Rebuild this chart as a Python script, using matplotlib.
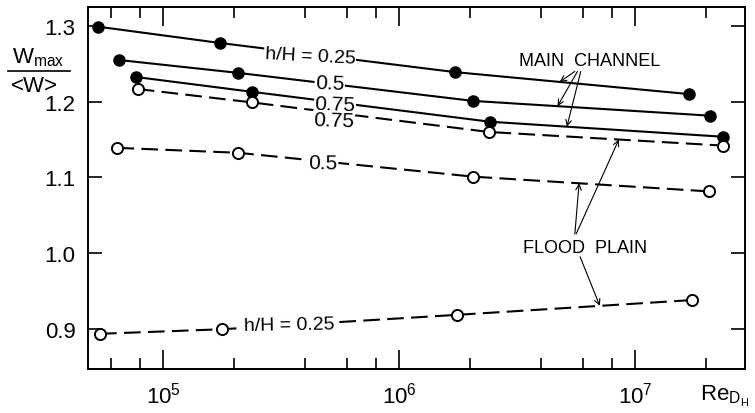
import numpy as np
import matplotlib
matplotlib.use("Agg")
import matplotlib.pyplot as plt
from matplotlib.lines import Line2D
from matplotlib.ticker import LogLocator, NullFormatter, FormatStrFormatter

plt.rcParams['font.family'] = ['Liberation Sans', 'DejaVu Sans']
plt.rcParams['mathtext.fontset'] = 'custom'
plt.rcParams['mathtext.rm'] = 'Liberation Sans'

# Wmax/<W> vs Re_DH, main channel (filled) and flood plain (open)
main_re = {
    '0.25': [5.3e4, 1.74e5, 1.73e6, 1.70e7],
    '0.5': [6.5e4, 2.08e5, 2.06e6, 2.08e7],
    '0.75': [7.7e4, 2.38e5, 2.43e6, 2.36e7],
}
main_w = {
    '0.25': [1.299, 1.2775, 1.239, 1.210],
    '0.5': [1.255, 1.238, 1.201, 1.1815],
    '0.75': [1.2325, 1.213, 1.1735, 1.1537],
}
flood_re = {
    '0.75': [7.8e4, 2.38e5, 2.40e6, 2.36e7],
    '0.5': [6.4e4, 2.08e5, 2.06e6, 2.06e7],
    '0.25': [5.4e4, 1.78e5, 1.76e6, 1.74e7],
}
flood_w = {
    '0.75': [1.2167, 1.199, 1.160, 1.142],
    '0.5': [1.139, 1.1325, 1.101, 1.0815],
    '0.25': [0.8935, 0.8995, 0.9185, 0.938],
}
xticks_major = [1e5, 1e6, 1e7]
yticks = [0.9, 1.0, 1.1, 1.2, 1.3]


def y_on(xs, ys, x):
    return np.interp(np.log10(x), np.log10(xs), ys)


fig = plt.figure(figsize=(7.55, 4.14), dpi=100)
ax = fig.add_axes([88/755, 44/414, 657/755, 362/414])
ax.set_xscale('log')
ax.set_xlim(4.8e4, 2.93e7)
ax.set_ylim(0.847, 1.325)

for k in main_re:
    ax.plot(main_re[k], main_w[k], '-', color='black', lw=1.5,
            marker='o', ms=8, mfc='black', mec='black', zorder=2)
for k in flood_re:
    ax.plot(flood_re[k], flood_w[k], color='black', lw=1.5, dashes=(8, 3.5),
            marker='o', ms=8, mfc='white', mec='black', mew=1.4, zorder=2)

# inline curve labels, white box breaks the line underneath
lab = dict(transform=ax.transAxes, ha='center', va='center', fontsize=15,
           bbox=dict(fc='white', ec='none', pad=0.5), zorder=3)
ax.text(0.338, 0.865, 'h/H = 0.25', rotation=-3, fontsize=14,
        **{k: v for k, v in lab.items() if k != 'fontsize'})
ax.text(0.368, 0.790, '0.5', rotation=-2, **lab)
ax.text(0.376, 0.732, '0.75', rotation=-2, **lab)
ax.text(0.374, 0.686, '0.75', rotation=-2, **lab)
ax.text(0.358, 0.569, '0.5', rotation=-1, **lab)
ax.text(0.306, 0.122, 'h/H = 0.25', rotation=1, fontsize=14,
        **{k: v for k, v in lab.items() if k != 'fontsize'})

# pointers to the curves
arr = dict(arrowstyle='->', lw=0.8, color='black', shrinkA=0, shrinkB=0)
ax.text(0.763, 0.851, 'MAIN  CHANNEL', transform=ax.transAxes,
        ha='center', va='center', fontsize=13)
for k, xt, start in [('0.25', 4.8e6, (0.741, 0.822)),
                     ('0.5', 4.7e6, (0.745, 0.822)),
                     ('0.75', 5.15e6, (0.750, 0.822))]:
    ax.annotate('', xy=(xt, y_on(main_re[k], main_w[k], xt)),
                xytext=start, textcoords='axes fraction', arrowprops=arr)

ax.text(0.756, 0.337, 'FLOOD  PLAIN', transform=ax.transAxes,
        ha='center', va='center', fontsize=13)
for k, xt, start in [('0.5', 5.8e6, (0.741, 0.373)),
                     ('0.75', 8.55e6, (0.743, 0.373)),
                     ('0.25', 7.1e6, (0.749, 0.310))]:
    ax.annotate('', xy=(xt, y_on(flood_re[k], flood_w[k], xt)),
                xytext=start, textcoords='axes fraction', arrowprops=arr)

ax.set_xticks(xticks_major)
ax.xaxis.set_minor_locator(LogLocator(base=10, subs=(2, 4, 6, 8)))
ax.xaxis.set_minor_formatter(NullFormatter())
ax.set_yticks(yticks)
ax.yaxis.set_major_formatter(FormatStrFormatter('%.1f'))
ax.tick_params(axis='both', which='both', direction='in', top=True, right=True,
               width=1.2, labelsize=16)
ax.tick_params(axis='x', which='major', length=14, pad=9)
ax.tick_params(axis='x', which='minor', length=8)
ax.tick_params(axis='y', which='major', length=10, pad=9)
for s in ax.spines.values():
    s.set_linewidth(1.4)

# axis titles
fig.text(38/755, 1 - 58/414, r'$\mathregular{W_{max}}$', ha='center', va='center', fontsize=16)
fig.add_artist(Line2D([8/755, 70/755], [1 - 72/414, 1 - 72/414], color='black', lw=1.2))
fig.text(34/755, 1 - 86/414, '<W>', ha='center', va='center', fontsize=16)
fig.text(725/755, 1 - 396/414, r'$\mathregular{Re_{D_H}}$', ha='center', va='center', fontsize=16)

fig.savefig('out.png', dpi=100)
